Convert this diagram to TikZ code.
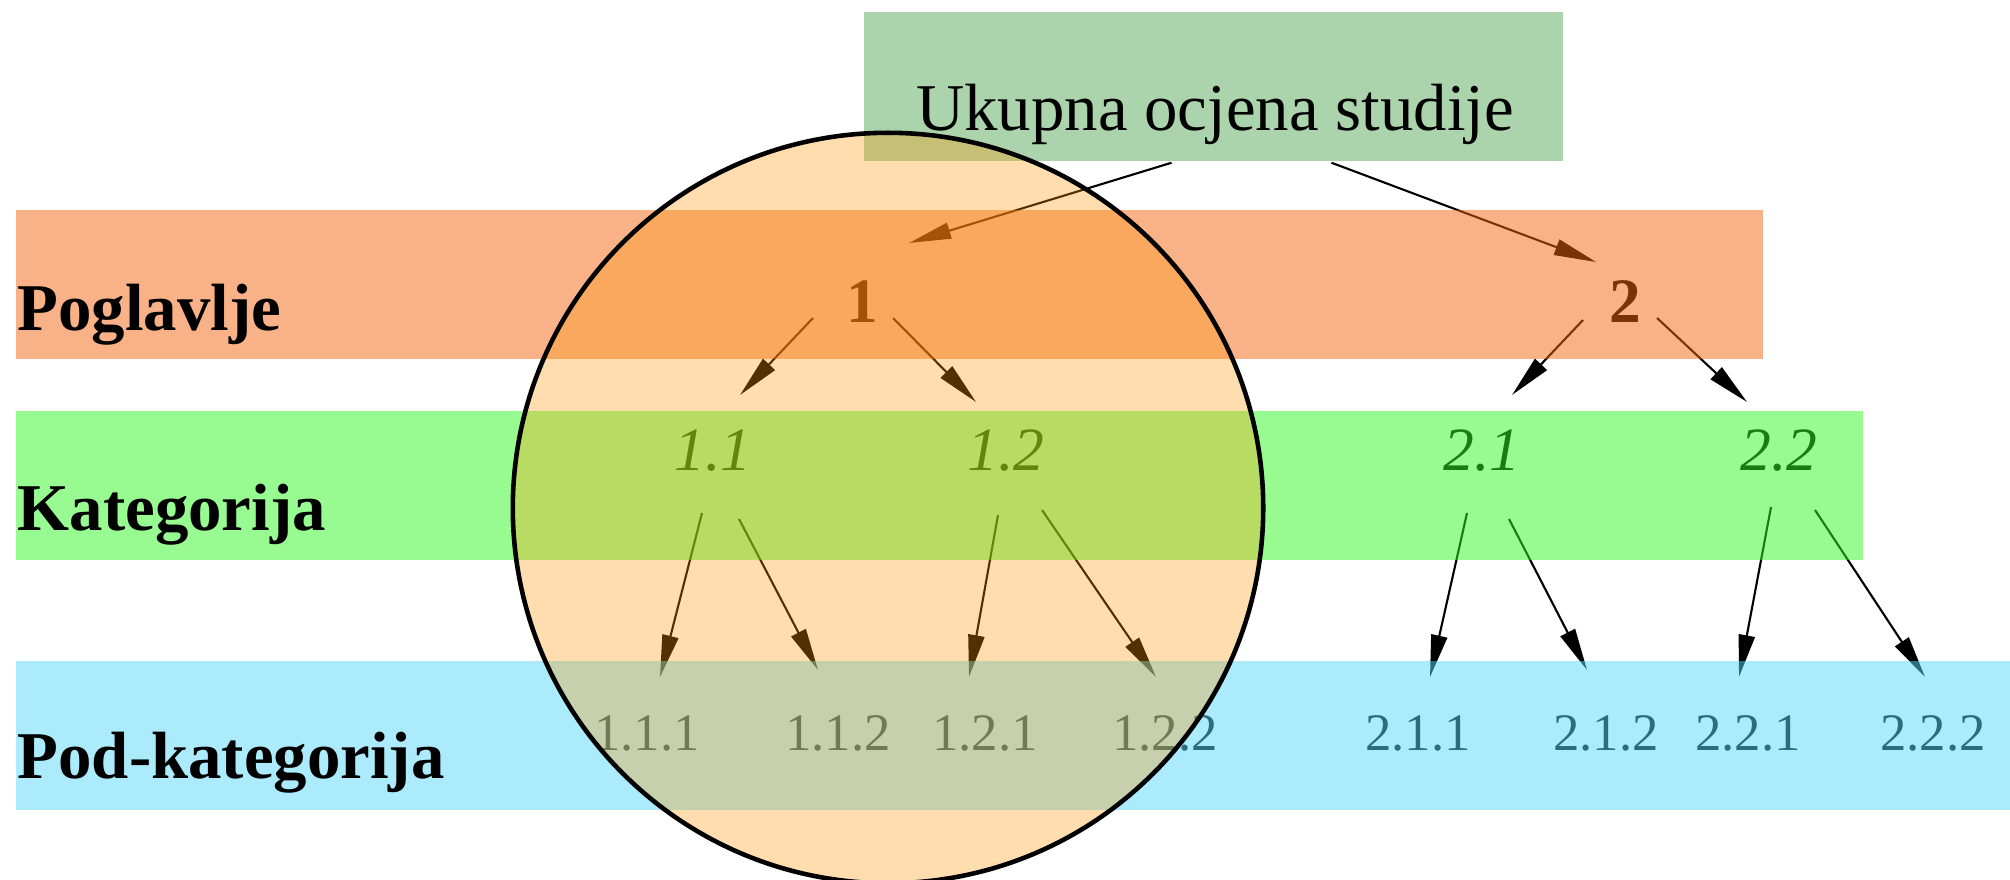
\documentclass[tikz,border=0pt]{standalone}
\usepackage{fontspec}
\setmainfont{Liberation Serif}
\usetikzlibrary{arrows.meta}

\definecolor{topbox}  {RGB}{172,212,172}
\definecolor{chapband}{RGB}{245,101,17}
\definecolor{catband} {RGB}{49,249,37}
\definecolor{subband} {RGB}{89,217,249}
\definecolor{focus}   {RGB}{255,152,8}

\begin{document}
\begin{tikzpicture}[x=0.01cm, y=-0.01cm,
    rowname/.style={anchor=base west, inner sep=0pt, font=\fontsize{19}{23}\selectfont\bfseries},
    chapter/.style={anchor=base, font=\fontsize{18}{22}\selectfont\bfseries},
    category/.style={anchor=base, font=\fontsize{17.5}{21}\selectfont\itshape},
    subcat/.style={anchor=base, font=\fontsize{15}{18}\selectfont},
    link/.style={-{Triangle[length=12pt,width=4.6pt]}, line width=0.6pt}]

    \useasboundingbox (0,0) rectangle (2010,879);
    \clip (0,0) rectangle (2010,879);
    \fill[white] (0,0) rectangle (2010,879);

    \node[fill=topbox, minimum width=6.99cm, minimum height=1.49cm, inner sep=0pt] (top) at (1213.5,86.5) {};
    \node[anchor=base, font=\fontsize{19}{23}\selectfont] (title) at (1215,130) {Ukupna ocjena studije};

    \node[chapter] (n1) at (862,322) {1};
    \node[chapter] (n2) at (1625,322) {2};

    \node[category] (n11) at (713,470) {1.1};
    \node[category] (n12) at (1006,470) {1.2};
    \node[category] (n21) at (1482,470) {2.1};
    \node[category] (n22) at (1779,470) {2.2};

    \node[subcat] (n111) at (647,750) {1.1.1};
    \node[subcat] (n112) at (838,750) {1.1.2};
    \node[subcat] (n121) at (985,750) {1.2.1};
    \node[subcat] (n122) at (1165,750) {1.2.2};
    \node[subcat] (n211) at (1418,750) {2.1.1};
    \node[subcat] (n212) at (1606,750) {2.1.2};
    \node[subcat] (n221) at (1748,750) {2.2.1};
    \node[subcat] (n222) at (1933,750) {2.2.2};

    \draw[link] ([shift={(-42,1)}]top.south) -- ([shift={(47,-79)}]n1.base);
    \draw[link] ([shift={(118,1)}]top.south) -- ([shift={(-29,-60)}]n2.base);

    \draw[link] ([shift={(-49,-4)}]n1.base) -- ([shift={(27,-75)}]n11.base);
    \draw[link] ([shift={(31,-4)}]n1.base) -- ([shift={(-30,-68)}]n12.base);
    \draw[link] ([shift={(-42,-2)}]n2.base) -- ([shift={(30,-75)}]n21.base);
    \draw[link] ([shift={(32,-4)}]n2.base) -- ([shift={(-32,-68)}]n22.base);

    \draw[link] ([shift={(-11,43)}]n11.base) -- ([shift={(13,-73)}]n111.base);
    \draw[link] ([shift={(26,49)}]n11.base) -- ([shift={(-20,-80)}]n112.base);
    \draw[link] ([shift={(-8,45)}]n12.base) -- ([shift={(-16,-73)}]n121.base);
    \draw[link] ([shift={(36,40)}]n12.base) -- ([shift={(-9,-73)}]n122.base);
    \draw[link] ([shift={(-15,43)}]n21.base) -- ([shift={(12,-73)}]n211.base);
    \draw[link] ([shift={(27,49)}]n21.base) -- ([shift={(-19,-80)}]n212.base);
    \draw[link] ([shift={(-8,37)}]n22.base) -- ([shift={(-9,-73)}]n221.base);
    \draw[link] ([shift={(36,40)}]n22.base) -- ([shift={(-8,-73)}]n222.base);

    \fill[chapband, fill opacity=.5] (16,210) rectangle (1763,359);
    \fill[catband, fill opacity=.5] (16,411) rectangle (1863,560);
    \fill[subband, fill opacity=.5] (16,661) rectangle (2010,810);

    \node[rowname] (chap) at (17,330) {Poglavlje};
    \node[rowname] (cat) at (17,530) {Kategorija};
    \node[rowname] (sub) at (17,778) {Pod-kategorija};

    \draw[line width=1.3pt, fill=focus, fill opacity=.32] (888,508) circle[radius=3.75cm];

\end{tikzpicture}
\end{document}
